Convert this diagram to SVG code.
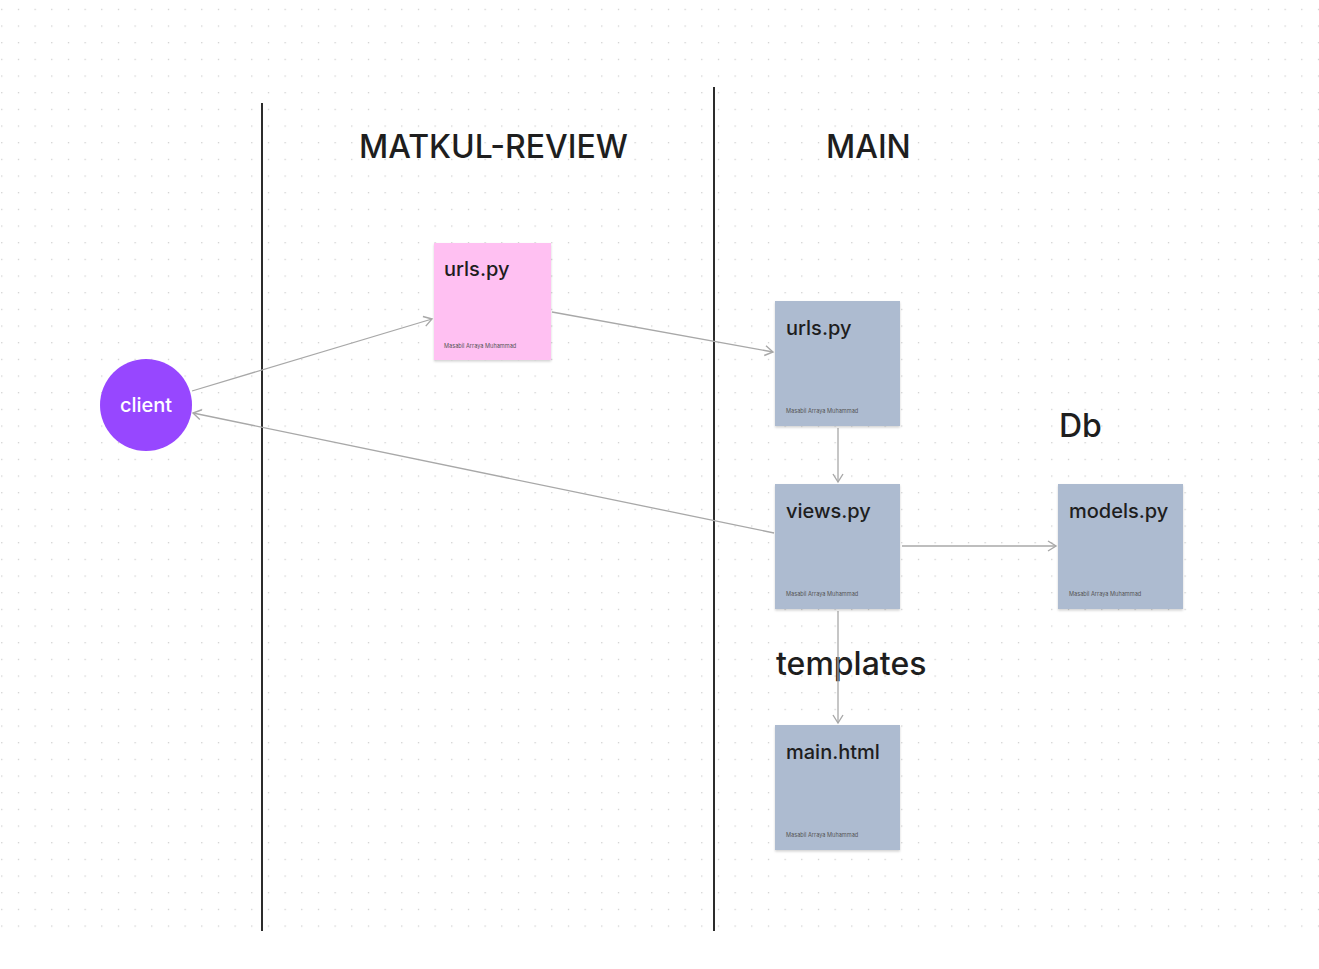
<svg xmlns="http://www.w3.org/2000/svg" width="1319" height="969" viewBox="0 0 1319 969">
<defs>
<pattern id="dots" patternUnits="userSpaceOnUse" x="1.2" y="8.8" width="16.667" height="16.667">
<rect x="0" y="0" width="1.2" height="1.2" fill="#c8c8c8"/>
</pattern>
<marker id="arr" viewBox="0 0 12 12" refX="10" refY="6" markerWidth="12" markerHeight="12" markerUnits="userSpaceOnUse" orient="auto">
<path d="M2,1 L10,6 L2,11" fill="none" stroke="#a8a8a8" stroke-width="1.4"/>
</marker>
<filter id="sh" x="-10%" y="-10%" width="120%" height="125%">
<feDropShadow dx="0" dy="1.5" stdDeviation="1.2" flood-color="#000" flood-opacity="0.18"/>
</filter>
</defs>
<style>
.t{font-family:Inter,"Liberation Sans",sans-serif;fill:#1e1e1e}
.h{font-size:32px;font-weight:500}
.n{font-size:20px;font-weight:500;fill:#1e1e1e}
.s{font-size:5.6px;fill:#555}
.c{stroke:#a8a8a8;stroke-width:1.3;fill:none;marker-end:url(#arr)}
.lane{stroke:#2c2c2c;stroke-width:2}
.blue{fill:#adbbd0;filter:url(#sh)}
</style>
<rect width="1319" height="969" fill="#ffffff"/>
<rect x="0" y="0" width="1319" height="935" fill="url(#dots)"/>
<g id="lanes">
<line class="lane" x1="262" y1="103" x2="262" y2="931"/>
<line class="lane" x1="714" y1="87" x2="714" y2="931"/>
</g>
<g id="labels">
<text class="t h" x="359" y="158">MATKUL-REVIEW</text>
<text class="t h" x="826" y="158">MAIN</text>
<text class="t h" x="1059" y="437">Db</text>
<text class="t h" x="776" y="675">templates</text>
</g>
<g id="connectors">
<line class="c" x1="192" y1="391" x2="432" y2="319"/>
<line class="c" x1="552" y1="312" x2="773" y2="352"/>
<line class="c" x1="774" y1="533" x2="193" y2="413"/>
<line class="c" x1="838" y1="428" x2="838" y2="482"/>
<line class="c" x1="902" y1="546" x2="1056" y2="546"/>
<line class="c" x1="838" y1="611" x2="838" y2="723"/>
</g>
<g id="client">
<circle cx="146" cy="405" r="46" fill="#9747ff"/>
<text class="t" x="146" y="412" font-size="20" font-weight="500" style="fill:#ffffff" text-anchor="middle">client</text>
</g>
<g id="urls-matkul">
<rect x="434" y="243" width="117" height="117" fill="#ffc0f2" filter="url(#sh)"/>
<text class="t n" x="444" y="276">urls.py</text>
<text class="t s" x="444" y="348">Masabil Arraya Muhammad</text>
</g>
<g id="urls-main">
<rect class="blue" x="775" y="301" width="125" height="125"/>
<text class="t n" x="786" y="335">urls.py</text>
<text class="t s" x="786" y="413">Masabil Arraya Muhammad</text>
</g>
<g id="views">
<rect class="blue" x="775" y="484" width="125" height="125"/>
<text class="t n" x="786" y="518">views.py</text>
<text class="t s" x="786" y="596">Masabil Arraya Muhammad</text>
</g>
<g id="models">
<rect class="blue" x="1058" y="484" width="125" height="125"/>
<text class="t n" x="1069" y="518">models.py</text>
<text class="t s" x="1069" y="596">Masabil Arraya Muhammad</text>
</g>
<g id="main-html">
<rect class="blue" x="775" y="725" width="125" height="125"/>
<text class="t n" x="786" y="759">main.html</text>
<text class="t s" x="786" y="837">Masabil Arraya Muhammad</text>
</g>
</svg>
